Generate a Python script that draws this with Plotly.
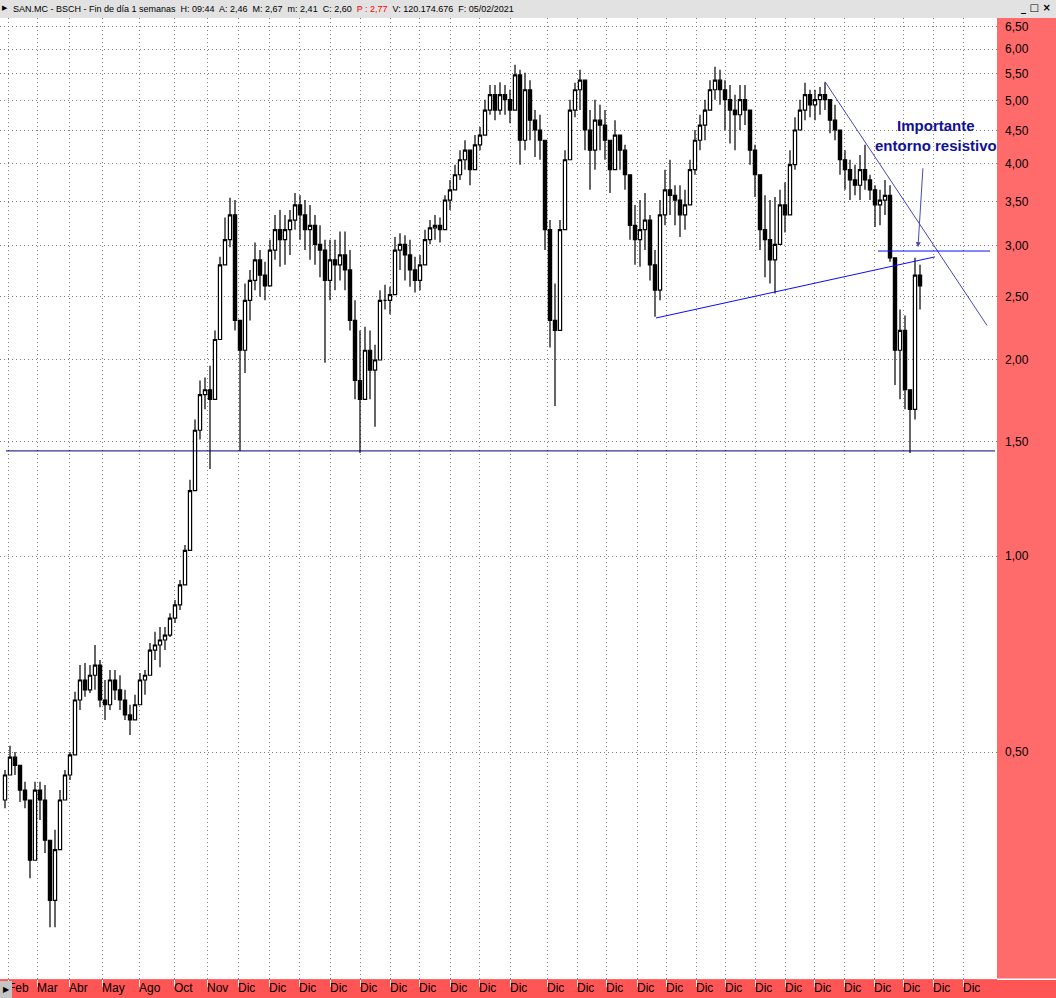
import plotly.graph_objects as go
import math

# ---------------- data ----------------
first_open = 0.422
close = [
    0.461, 0.491, 0.477, 0.437, 0.422, 0.341, 0.437, 0.422, 0.366, 0.296,
    0.354, 0.422, 0.461, 0.495, 0.601, 0.645, 0.623, 0.656, 0.680, 0.601,
    0.591, 0.645, 0.623, 0.601, 0.570, 0.560, 0.591, 0.645, 0.656, 0.717,
    0.730, 0.743, 0.756, 0.803, 0.841, 0.903, 1.02, 1.26, 1.56, 1.77,
    1.80, 1.74, 2.15, 2.80, 3.06, 3.34, 2.30, 2.07, 2.47, 2.65,
    2.85, 2.70, 2.60, 2.95, 3.17, 3.06, 3.17, 3.28, 3.46, 3.34,
    3.17, 3.22, 3.01, 2.95, 2.65, 2.85, 2.80, 2.90, 2.75, 2.30,
    1.86, 1.74, 2.07, 1.93, 2.00, 2.47, 2.47, 2.52, 2.95, 3.01,
    2.90, 2.75, 2.65, 2.80, 3.06, 3.19, 3.22, 3.17, 3.52, 3.65,
    3.85, 4.06, 4.20, 3.92, 4.28, 4.43, 4.84, 5.11, 4.84, 5.11,
    5.02, 4.84, 5.48, 4.35, 5.20, 4.67, 4.51, 4.35, 3.17, 2.30,
    2.22, 3.17, 4.06, 4.84, 5.20, 5.38, 4.51, 4.20, 4.67, 4.59,
    4.35, 3.92, 4.43, 4.20, 3.85, 3.22, 3.06, 3.17, 3.28, 2.80,
    2.56, 3.34, 3.65, 3.58, 3.52, 3.34, 3.46, 3.92, 4.35, 4.59,
    4.84, 5.20, 5.38, 5.20, 5.02, 4.84, 4.76, 5.02, 4.84, 4.20,
    3.85, 3.17, 3.06, 2.85, 3.01, 3.46, 3.34, 3.99, 4.51, 4.84,
    5.11, 4.93, 5.02, 5.11, 5.02, 4.67, 4.51, 4.06, 3.92, 3.78,
    3.71, 3.92, 3.78, 3.65, 3.46, 3.52, 3.58, 2.87, 2.07, 2.22,
    1.80, 1.68, 2.70, 2.60,
]
high = [
    0.469, 0.511, 0.500, 0.477, 0.450, 0.422, 0.450, 0.450, 0.445, 0.366,
    0.380, 0.437, 0.469, 0.500, 0.619, 0.680, 0.685, 0.680, 0.730, 0.692,
    0.645, 0.668, 0.668, 0.656, 0.623, 0.591, 0.612, 0.661, 0.668, 0.735,
    0.765, 0.778, 0.778, 0.817, 0.856, 0.919, 1.04, 1.31, 1.62, 1.86,
    1.88, 1.96, 2.22, 2.88, 3.31, 3.55, 3.52, 2.30, 2.62, 2.75,
    3.03, 2.95, 2.83, 3.06, 3.34, 3.40, 3.34, 3.40, 3.61, 3.58,
    3.52, 3.46, 3.34, 3.22, 3.06, 3.06, 3.06, 3.15, 3.15, 2.95,
    2.47, 2.22, 2.25, 2.22, 2.11, 2.56, 2.61, 2.59, 3.09, 3.13,
    3.11, 3.06, 2.88, 2.90, 3.17, 3.28, 3.34, 3.31, 3.58, 3.78,
    3.99, 4.20, 4.35, 4.20, 4.43, 4.56, 5.02, 5.29, 5.29, 5.34,
    5.29, 5.20, 5.68, 5.58, 5.52, 5.38, 4.84, 4.76, 4.35, 3.28,
    2.62, 3.28, 4.20, 5.02, 5.33, 5.58, 5.38, 4.84, 5.02, 4.93,
    4.84, 4.35, 4.67, 4.43, 4.28, 3.85, 3.46, 3.52, 3.61, 3.34,
    2.95, 3.52, 3.92, 4.06, 3.71, 3.71, 3.65, 4.06, 4.51, 4.76,
    5.02, 5.38, 5.64, 5.58, 5.38, 5.29, 5.11, 5.29, 5.29, 4.84,
    4.28, 3.85, 3.58, 3.52, 3.56, 3.65, 3.75, 4.20, 4.72, 5.02,
    5.33, 5.20, 5.20, 5.25, 5.34, 5.02, 4.93, 4.51, 4.20, 4.06,
    3.99, 4.13, 4.28, 3.85, 3.71, 3.65, 3.78, 3.71, 2.87, 2.39,
    2.34, 1.80, 2.87, 2.80,
]
low = [
    0.410, 0.461, 0.461, 0.419, 0.410, 0.320, 0.341, 0.393, 0.350, 0.269,
    0.269, 0.354, 0.422, 0.453, 0.495, 0.580, 0.608, 0.616, 0.623, 0.586,
    0.560, 0.580, 0.601, 0.580, 0.560, 0.531, 0.560, 0.591, 0.612, 0.656,
    0.692, 0.675, 0.717, 0.751, 0.789, 0.826, 0.903, 1.02, 1.26, 1.51,
    1.68, 1.36, 1.74, 2.15, 2.80, 2.98, 2.22, 1.45, 1.91, 2.30,
    2.56, 2.50, 2.47, 2.60, 2.85, 2.78, 2.80, 2.90, 3.17, 3.06,
    2.95, 2.85, 2.80, 2.68, 1.98, 2.47, 2.56, 2.65, 2.56, 2.22,
    1.74, 1.44, 1.74, 1.74, 1.58, 2.00, 2.39, 2.35, 2.52, 2.75,
    2.65, 2.59, 2.54, 2.56, 2.80, 3.01, 3.06, 3.03, 3.17, 3.40,
    3.65, 3.78, 3.92, 3.71, 3.92, 4.20, 4.43, 4.76, 4.67, 4.76,
    4.76, 4.62, 4.84, 3.99, 4.20, 4.35, 4.10, 4.06, 2.95, 2.09,
    1.70, 2.22, 3.17, 4.06, 4.72, 4.84, 4.20, 3.65, 3.92, 4.20,
    4.06, 3.61, 3.92, 3.92, 3.65, 3.06, 2.80, 2.78, 2.95, 2.65,
    2.33, 2.47, 3.22, 3.34, 3.22, 3.09, 3.17, 3.46, 3.85, 4.20,
    4.35, 4.84, 5.02, 4.93, 4.51, 4.30, 4.20, 4.51, 4.59, 3.99,
    3.56, 2.95, 2.68, 2.62, 2.53, 3.01, 3.14, 3.34, 3.92, 4.51,
    4.67, 4.72, 4.67, 4.76, 4.84, 4.46, 4.35, 3.85, 3.65, 3.52,
    3.58, 3.52, 3.65, 3.52, 3.20, 3.22, 3.34, 2.83, 1.83, 1.74,
    1.68, 1.44, 1.62, 2.39,
]

tick_pos = [0.6, 6.4, 12.8, 19.4, 26.8, 33.8, 40.4, 46.6, 52.8, 58.8, 65.0, 71.0,
            77.0, 82.8, 89.0, 94.8, 101.0, 108.4, 114.4, 120.2, 126.4, 132.2, 138.2,
            144.0, 150.0, 156.0, 161.8, 167.8, 173.8, 179.6, 185.6, 191.6]
tick_text = ["Feb", "Mar", "Abr", "May", "Ago", "Oct", "Nov"] + ["Dic"] * 25

price_ticks = [0.5, 1.0, 1.5, 2.0, 2.5, 3.0, 3.5, 4.0, 4.5, 5.0, 5.5, 6.0, 6.5]
price_labels = ["0,50", "1,00", "1,50", "2,00", "2,50", "3,00", "3,50",
                "4,00", "4,50", "5,00", "5,50", "6,00", "6,50"]

support_x, support_y = [0.2, 198.0], [1.45, 1.45]
rising_x, rising_y = [130.2, 186.0], [2.32, 2.88]
falling_x, falling_y = [164.0, 196.4], [5.35, 2.26]
resist_x, resist_y = [174.6, 197.0], [2.94, 2.94]
arrow_from = (183.6, 3.96)
arrow_to = (182.6, 2.98)
note_pos = (186.2, 4.42)

header_html = ("SAN.MC - BSCH - Fin de día 1 semanas&nbsp; H: 09:44&nbsp; A: 2,46&nbsp; M: 2,67&nbsp; "
               "m: 2,41&nbsp; C: 2,60&nbsp; <span style='color:#ff0000'>P : 2,77</span>&nbsp; "
               "V: 120.174.676&nbsp; F: 05/02/2021")

# ---------------- build ----------------
n = len(close)
idx = list(range(n))
opens = [first_open] + close[:-1]
hi = [max(h, o, c) for h, o, c in zip(high, opens, close)]
lo = [min(l, o, c) for l, o, c in zip(low, opens, close)]

W, H = 1056, 998
ML, MR, MT, MB = 0, 59, 18, 19
PW, PH = W - ML - MR, H - MT - MB

def px(p):
    return (p - ML) / PW

def py(p):
    return (H - MB - p) / PH

FONT = "Liberation Sans, Arial, sans-serif"
GRID = dict(showgrid=True, gridcolor="#7a7a7a", griddash="1px,3px", gridwidth=1)

fig = go.Figure()
fig.add_trace(go.Candlestick(
    x=idx, open=opens, high=hi, low=lo, close=close,
    increasing=dict(line=dict(color="black", width=1.2), fillcolor="white"),
    decreasing=dict(line=dict(color="black", width=1.2), fillcolor="black"),
    whiskerwidth=0, showlegend=False, hoverinfo="skip",
))

def line(x, y, color, width=1):
    fig.add_trace(go.Scatter(x=x, y=y, mode="lines", line=dict(color=color, width=width),
                             showlegend=False, hoverinfo="skip"))

line(support_x, support_y, "#00007a")
line(rising_x, rising_y, "#0a0aff")
line(falling_x, falling_y, "#4646b4")
line(resist_x, resist_y, "#0a0aff")

# invisible trace for the label axis
fig.add_trace(go.Scatter(x=[tick_pos[0]], y=[1.0], xaxis="x2", mode="markers",
                         marker=dict(opacity=0), showlegend=False, hoverinfo="skip"))

fig.add_annotation(
    x=arrow_to[0], y=math.log10(arrow_to[1]), ax=arrow_from[0], ay=math.log10(arrow_from[1]),
    xref="x", yref="y", axref="x", ayref="y", text="", showarrow=True,
    arrowhead=2, arrowsize=1, arrowwidth=1, arrowcolor="#4a4ab8",
)
fig.add_annotation(
    x=note_pos[0], y=math.log10(note_pos[1]), xref="x", yref="y",
    text="<b>Importante<br>entorno resistivo</b>", showarrow=False,
    font=dict(family=FONT, size=15, color="#101096"), align="center",
)

# header text
fig.add_annotation(x=px(11), y=py(9), xref="paper", yref="paper", xanchor="left", yanchor="middle",
                   text=header_html, showarrow=False, font=dict(family=FONT, size=9, color="black"))
fig.add_annotation(x=px(5), y=py(8), xref="paper", yref="paper", xanchor="center", yanchor="middle",
                   text="▶", showarrow=False, font=dict(family="DejaVu Sans", size=7, color="black"))
fig.add_annotation(x=px(1036), y=py(8), xref="paper", yref="paper", xanchor="center", yanchor="middle",
                   text="<b>_ □ ×</b>", showarrow=False, font=dict(family="DejaVu Sans", size=10, color="black"))
fig.add_annotation(x=px(6), y=py(989), xref="paper", yref="paper", xanchor="center", yanchor="middle",
                   text="▶", showarrow=False, font=dict(family="DejaVu Sans", size=8, color="black"))

shapes = [
    dict(type="rect", xref="paper", yref="paper", x0=0, x1=px(W), y0=py(MT), y1=py(0),
         fillcolor="#e2e2e2", line=dict(width=0), layer="below"),
    dict(type="rect", xref="paper", yref="paper", x0=0, x1=px(W), y0=py(H), y1=py(980),
         fillcolor="#ff5555", line=dict(width=0), layer="below"),
    dict(type="rect", xref="paper", yref="paper", x0=1.0, x1=px(W), y0=py(980), y1=py(978.5),
         fillcolor="white", line=dict(width=0), layer="below"),
    dict(type="rect", xref="paper", yref="paper", x0=0, x1=px(12), y0=py(H), y1=py(981),
         fillcolor="#c4c4c4", line=dict(width=0), layer="above"),
]

fig.update_layout(
    width=W, height=H, margin=dict(l=ML, r=MR, t=MT, b=MB, pad=0),
    paper_bgcolor="#ff6b6b", plot_bgcolor="white",
    shapes=shapes, showlegend=False, boxgap=0.08,
    xaxis=dict(range=[-1, (PW / 5.0) - 1], tickmode="array", tickvals=tick_pos,
               showticklabels=False, ticks="outside", ticklen=7, tickcolor="white", tickwidth=1,
               zeroline=False, showline=False, rangeslider=dict(visible=False), fixedrange=True, **GRID),
    xaxis2=dict(range=[-1, (PW / 5.0) - 1], overlaying="x", anchor="y", side="bottom",
                tickmode="array", tickvals=tick_pos, ticktext=tick_text,
                ticks="", showgrid=False, zeroline=False, showline=False,
                ticklabelposition="outside right",
                tickfont=dict(family=FONT, size=12, color="black"), fixedrange=True),
    yaxis=dict(type="log", range=[-0.6496, 0.8262], side="right",
               tickmode="array", tickvals=price_ticks, ticktext=price_labels,
               ticks="", ticklabelstandoff=7,
               tickfont=dict(family=FONT, size=12, color="black"),
               zeroline=False, showline=False, fixedrange=True, **GRID),
)

fig.write_html("out.html", config={"displayModeBar": False},
               post_script="document.body.style.margin='0';")
